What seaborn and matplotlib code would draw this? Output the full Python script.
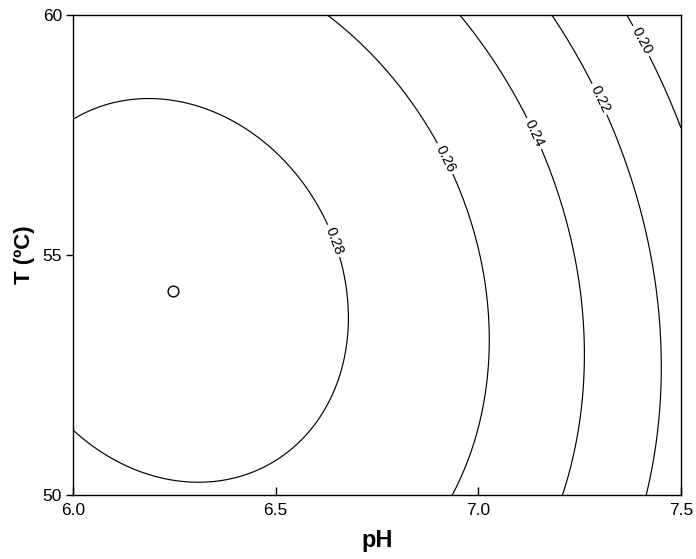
import numpy as np
import pandas as pd
import matplotlib
matplotlib.use("Agg")
import matplotlib.pyplot as plt
import seaborn as sns

# ---- data ----
# points lying on each contour line (pH, T, level)
pts_pH = [6.00, 6.19, 6.46, 6.664, 6.681, 6.659, 6.00, 6.296, 6.503,
          6.63, 6.849, 6.987, 7.026, 7.017, 6.933,
          6.955, 7.11, 7.226, 7.248, 7.256, 7.207,
          7.182, 7.276, 7.451, 7.414,
          7.369, 7.50]
pts_T = [57.81, 58.24, 57.42, 54.96, 53.65, 52.46, 51.35, 50.28, 50.73,
         60.0, 58.04, 55.52, 53.29, 51.98, 50.0,
         60.0, 58.04, 55.52, 54.2, 51.98, 50.0,
         60.0, 58.44, 51.98, 50.0,
         60.0, 57.71]
pts_level = [0.28] * 9 + [0.26] * 6 + [0.24] * 6 + [0.22] * 4 + [0.20] * 2

levels = [0.20, 0.22, 0.24, 0.26, 0.28]
label_pos = [(7.40, 59.45), (7.30, 58.25), (7.13, 57.5), (6.905, 56.95), (6.645, 55.3)]

opt_pH = [6.247]
opt_T = [54.25]

# ---- quadratic response surface fitted to the read contour points ----
p = np.array(pts_pH)
t = np.array(pts_T)
z = np.array(pts_level)
xc = (p - 6.75) / 0.75
yc = (t - 55.0) / 5.0
M = np.column_stack([np.ones_like(xc), xc, yc, xc**2, yc**2, xc * yc])
coef, *_ = np.linalg.lstsq(M, z, rcond=None)

gp = np.linspace(6.0, 7.5, 400)
gt = np.linspace(50.0, 60.0, 400)
PP, TT = np.meshgrid(gp, gt)
X = (PP - 6.75) / 0.75
Y = (TT - 55.0) / 5.0
Z = coef[0] + coef[1]*X + coef[2]*Y + coef[3]*X**2 + coef[4]*Y**2 + coef[5]*X*Y

# ---- plotting ----
sns.set_theme(style="white")
plt.rcParams['font.family'] = ['Liberation Sans', 'DejaVu Sans']

fig = plt.figure(figsize=(6.96, 5.59), dpi=100)
ax = fig.add_axes([73/696, 1 - 495/559, (681 - 73)/696, (495 - 15)/559])

cs = ax.contour(PP, TT, Z, levels=levels, colors='black', linewidths=0.85)
ax.clabel(cs, levels=levels, fmt='%.2f', fontsize=10.5, inline=True,
          inline_spacing=3, manual=label_pos)

df = pd.DataFrame({'pH': opt_pH, 'T': opt_T})
sns.scatterplot(data=df, x='pH', y='T', ax=ax, marker='o', s=60,
                facecolor='white', edgecolor='black', linewidth=1.0, zorder=5)

ax.set_xlim(6.0, 7.5)
ax.set_ylim(50, 60)
ax.set_xticks([6.0, 6.5, 7.0, 7.5])
ax.set_xticklabels(['6.0', '6.5', '7.0', '7.5'])
ax.set_yticks([50, 55, 60])
ax.set_yticklabels(['50', '55', '60'])
ax.tick_params(axis='x', direction='in', length=6, width=1, color='black',
               labelsize=12.5, pad=6, labelcolor='black', bottom=True)
ax.tick_params(axis='y', direction='out', length=5, width=1, color='black',
               labelsize=12.5, pad=3, labelcolor='black', left=True)

for sp in ax.spines.values():
    sp.set_color('black')
    sp.set_linewidth(1.0)
    sp.set_visible(True)

ax.set_xlabel('pH', fontsize=17, fontweight='bold', color='black', labelpad=8)
ax.set_ylabel('T (ºC)', fontsize=16, fontweight='bold', color='black', labelpad=5)
ax.grid(False)

fig.savefig('out.png', dpi=100, facecolor='white')
